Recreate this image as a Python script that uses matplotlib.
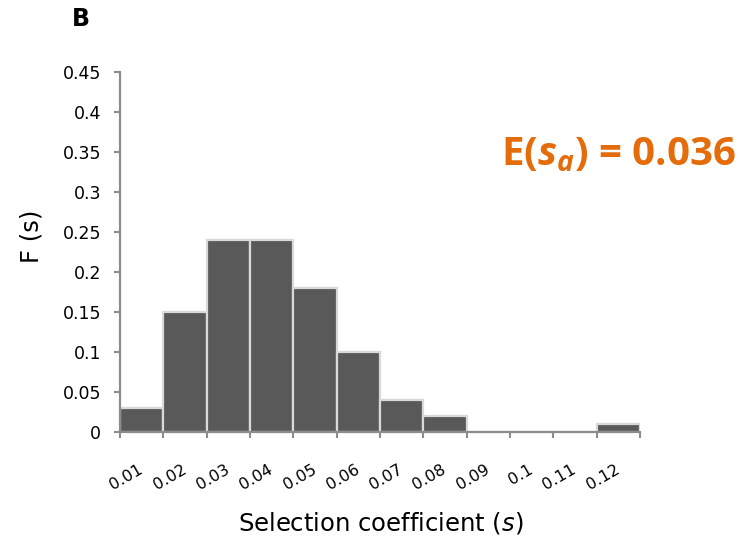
import numpy as np
import matplotlib
matplotlib.use("Agg")
import matplotlib.pyplot as plt

plt.rcParams['font.family'] = 'DejaVu Sans'
plt.rcParams['mathtext.fontset'] = 'custom'
plt.rcParams['mathtext.rm'] = 'DejaVu Sans'
plt.rcParams['mathtext.it'] = 'DejaVu Sans:italic'
plt.rcParams['mathtext.bf'] = 'Open Sans:bold:italic'

# histogram of selection coefficients
bins = ['0.01', '0.02', '0.03', '0.04', '0.05', '0.06',
        '0.07', '0.08', '0.09', '0.1', '0.11', '0.12']
freq = [0.03, 0.15, 0.24, 0.24, 0.18, 0.10, 0.04, 0.02, 0.0, 0.0, 0.0, 0.01]
yticks = [0, 0.05, 0.1, 0.15, 0.2, 0.25, 0.3, 0.35, 0.4, 0.45]

axcol = '#8c8c8c'

fig = plt.figure(figsize=(7.54, 5.44), dpi=100)
ax = fig.add_axes([120/754, 1-432/544, 520/754, 360/544])

xpos = np.arange(len(bins)) + 0.5
ax.bar(xpos, freq, width=1.0, color='#595959', edgecolor='#d9d9d9', linewidth=1.6, zorder=2)

ax.set_xlim(0, len(bins))
ax.set_ylim(0, 0.45)
ax.set_yticks(yticks)
ax.set_yticklabels(['%g' % v for v in yticks], fontsize=12.5)

# tick marks between categories, labels at the centres
ax.set_xticks(np.arange(len(bins) + 1))
ax.set_xticklabels([])
ax.set_xticks(xpos, minor=True)
ax.set_xticklabels(bins, minor=True, rotation=30, ha='right', va='center',
                   rotation_mode='anchor', fontsize=11.5)
ax.tick_params(axis='x', which='minor', length=0, pad=26)
ax.tick_params(axis='x', which='major', length=4.5, width=1.5, color=axcol)
ax.tick_params(axis='y', length=4.5, width=1.5, color=axcol, pad=9)

for s in ['top', 'right']:
    ax.spines[s].set_visible(False)
for s in ['left', 'bottom']:
    ax.spines[s].set_color(axcol)
    ax.spines[s].set_linewidth(1.6)
    ax.spines[s].set_zorder(3)

fig.text(381/754, 1-523/544, r'Selection coefficient ($s$)', fontsize=17.5,
         ha='center', va='center')
fig.text(32/754, 1-236/544, 'F (s)', fontsize=17.5, rotation=90,
         ha='center', va='center')
fig.text(81/754, 1-19/544, 'B', fontsize=17, fontweight='bold',
         ha='center', va='center')
fig.text(501/754, 1-165/544, r'E($\mathbf{s_a}$) = 0.036', fontsize=29,
         fontweight='bold', family='Open Sans', color='#e46c0a',
         ha='left', va='baseline')

fig.savefig('out.png', dpi=100)
